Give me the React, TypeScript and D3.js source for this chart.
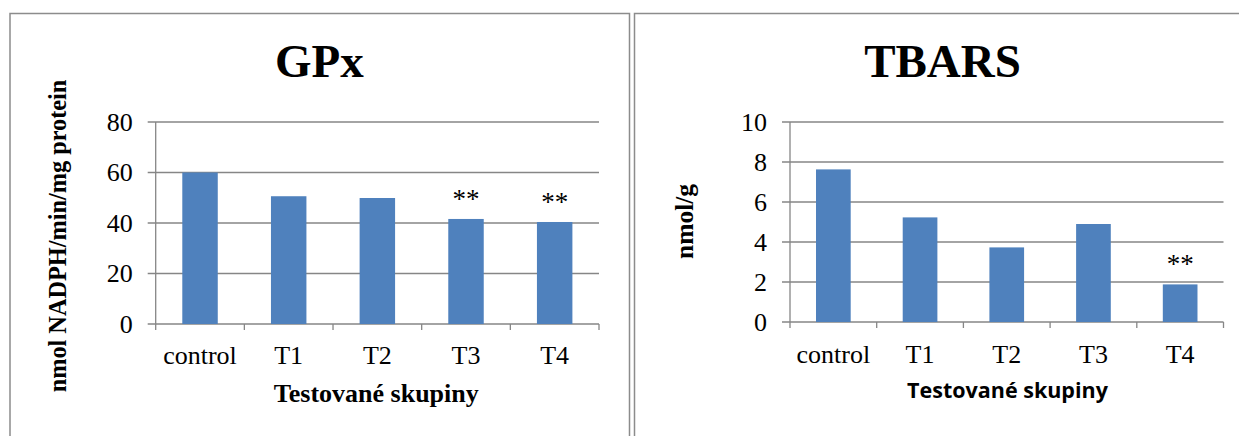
import React from "react";
import * as d3 from "d3";

const categories = ["control", "T1", "T2", "T3", "T4"];
const gpxValues = [60, 50.6, 49.9, 41.6, 40.4];
const gpxSignificance = ["", "", "", "**", "**"];
const gpxTicks = [0, 20, 40, 60, 80];
const tbarsValues = [7.63, 5.23, 3.73, 4.9, 1.88];
const tbarsSignificance = ["", "", "", "", "**"];
const tbarsTicks = [0, 2, 4, 6, 8, 10];

const SERIF = "'Liberation Serif', 'Times New Roman', serif";
const SANS = "'Open Sans', 'Liberation Sans', sans-serif";
const GRID = "#868686";
const BAR = "#4F81BD";

type ChartProps = {
  title: string;
  titleX: number;
  values: number[];
  sig: string[];
  ticks: number[];
  yMax: number;
  x0: number;
  x1: number;
  yTop: number;
  yBottom: number;
  yLabel: string;
  yLabelX: number;
  yLabelY: number;
  yLabelSize: number;
  xTitleX: number;
  xTitleY: number;
  xTitleFont: string;
  xTitleSize: number;
  catY: number;
};

function BarChart(p: ChartProps) {
  const x = d3
    .scaleBand<string>()
    .domain(categories)
    .range([p.x0, p.x1])
    .paddingInner(0.6)
    .paddingOuter(0.3);
  const y = d3.scaleLinear().domain([0, p.yMax]).range([p.yBottom, p.yTop]);
  const step = x.step();
  const boundaries = d3.range(categories.length + 1).map((i) => p.x0 + i * step);
  return (
    <g>
      <text
        x={p.titleX}
        y={77}
        textAnchor="middle"
        fontFamily={SERIF}
        fontWeight="bold"
        fontSize={47}
        fill="#000"
      >
        {p.title}
      </text>
      {p.ticks.map((t) => (
        <g key={t}>
          <line x1={p.x0 - 8} x2={p.x1} y1={y(t)} y2={y(t)} stroke={GRID} strokeWidth={1.3} />
          <text
            x={p.x0 - 23}
            y={y(t) + 8.6}
            textAnchor="end"
            fontFamily={SERIF}
            fontSize={26}
            fill="#000"
          >
            {t}
          </text>
        </g>
      ))}
      <line x1={p.x0} x2={p.x0} y1={p.yTop} y2={p.yBottom} stroke={GRID} strokeWidth={1.3} />
      {boundaries.map((b, i) => (
        <line key={i} x1={b} x2={b} y1={p.yBottom} y2={p.yBottom + 6} stroke={GRID} strokeWidth={1.3} />
      ))}
      {categories.map((c, i) => (
        <g key={c}>
          <rect
            x={x(c)!}
            y={y(p.values[i])}
            width={x.bandwidth()}
            height={p.yBottom - y(p.values[i])}
            fill={BAR}
          />
          {p.sig[i] && (
            <text
              x={x(c)! + x.bandwidth() / 2}
              y={y(p.values[i]) - 11}
              textAnchor="middle"
              fontFamily={SERIF}
              fontSize={27}
              fill="#000"
            >
              {p.sig[i]}
            </text>
          )}
          <text
            x={x(c)! + x.bandwidth() / 2}
            y={p.catY}
            textAnchor="middle"
            fontFamily={SERIF}
            fontSize={26}
            fill="#000"
          >
            {c}
          </text>
        </g>
      ))}
      <text
        transform={`translate(${p.yLabelX},${p.yLabelY}) rotate(-90)`}
        textAnchor="middle"
        fontFamily={SERIF}
        fontWeight="bold"
        fontSize={p.yLabelSize}
        fill="#000"
      >
        {p.yLabel}
      </text>
      <text
        x={p.xTitleX}
        y={p.xTitleY}
        textAnchor="middle"
        fontFamily={p.xTitleFont}
        fontWeight="bold"
        fontSize={p.xTitleSize}
        fill="#000"
      >
        Testované skupiny
      </text>
    </g>
  );
}

export default function App() {
  return (
    <svg
      width={1239}
      height={436}
      style={{ position: "absolute", left: 0, top: 0, background: "#fff" }}
    >
      <rect x={0} y={0} width={1239} height={436} fill="#fff" />
      <path d="M10,440 V13.5 H629.5 V440" fill="none" stroke="#8c8c8c" strokeWidth={1.5} />
      <path d="M634.5,440 V13.5 H1245" fill="none" stroke="#8c8c8c" strokeWidth={1.5} />
      <BarChart
        title="GPx"
        titleX={319.3}
        values={gpxValues}
        sig={gpxSignificance}
        ticks={gpxTicks}
        yMax={80}
        x0={155.7}
        x1={599}
        yTop={122}
        yBottom={324}
        yLabel="nmol NADPH/min/mg protein"
        yLabelX={66}
        yLabelY={236}
        yLabelSize={24.3}
        xTitleX={376.3}
        xTitleY={401.7}
        xTitleFont={SERIF}
        xTitleSize={26}
        catY={364.3}
      />
      <BarChart
        title="TBARS"
        titleX={942.5}
        values={tbarsValues}
        sig={tbarsSignificance}
        ticks={tbarsTicks}
        yMax={10}
        x0={790}
        x1={1223.5}
        yTop={122}
        yBottom={322}
        yLabel="nmol/g"
        yLabelX={693}
        yLabelY={221.5}
        yLabelSize={25.5}
        xTitleX={1007.5}
        xTitleY={398.3}
        xTitleFont={SANS}
        xTitleSize={21.5}
        catY={363.3}
      />
    </svg>
  );
}
